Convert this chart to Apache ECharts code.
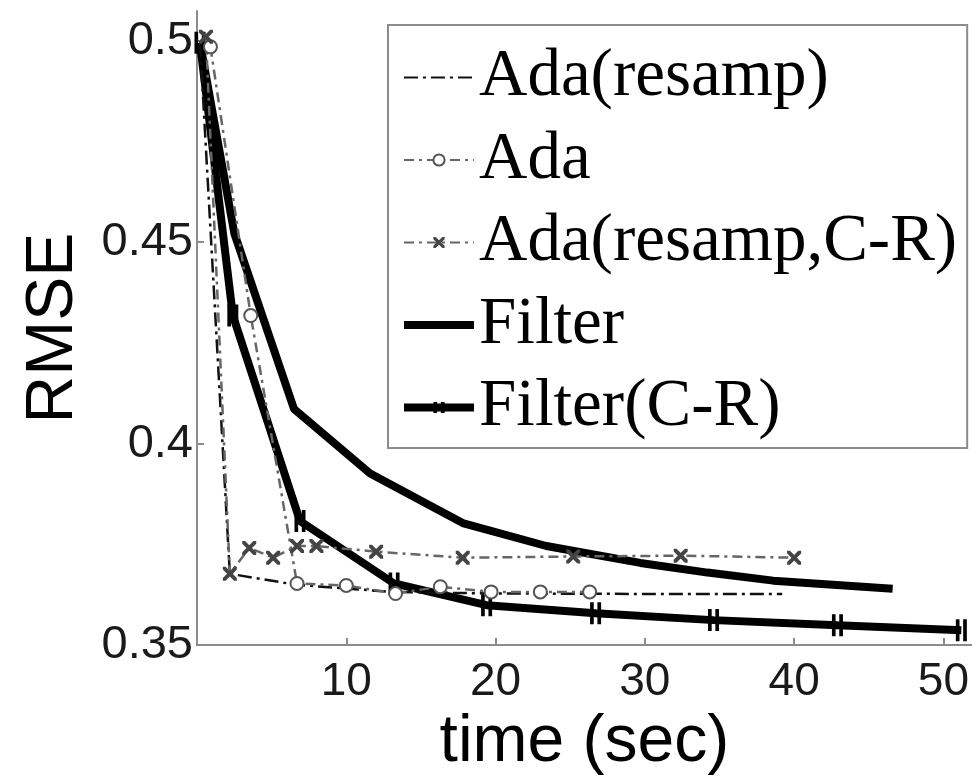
<!DOCTYPE html>
<html><head><meta charset="utf-8">
<script src="https://cdn.jsdelivr.net/npm/echarts@6/dist/echarts.min.js"></script>
<style>html,body{margin:0;padding:0;background:#fff}#c{width:972px;height:781px}</style>
</head><body><div id="c"></div>
<script>
// ---- data ----
const xTicks = [10, 20, 30, 40, 50];
const yTicks = [0.35, 0.4, 0.45, 0.5];
const seriesNames = ['Ada(resamp)', 'Ada', 'Ada(resamp,C-R)', 'Filter', 'Filter(C-R)'];

const adaResampX = [0.2, 2.2, 6.6, 13.0, 20.0, 30.0, 39.2];
const adaResampY = [0.4995, 0.3677, 0.3650, 0.3632, 0.3628, 0.3627, 0.3627];

const adaX = [0.9, 3.6, 6.7, 10.0, 13.3, 16.3, 19.7, 23.0, 26.3];
const adaY = [0.4985, 0.4318, 0.3653, 0.3648, 0.3628, 0.3645, 0.3632, 0.3632, 0.3632];

const adaCRX = [0.6, 2.2, 3.5, 5.1, 6.7, 8.0, 12.0, 17.8, 25.2, 32.4, 40.0];
const adaCRY = [0.5010, 0.3677, 0.3741, 0.3717, 0.3746, 0.3746, 0.3732, 0.3717, 0.3720, 0.3722, 0.3717];

const filterX = [0.2, 2.5, 6.5, 11.6, 17.8, 23.4, 29.7, 34.2, 38.6, 46.6];
const filterY = [0.4995, 0.4522, 0.4086, 0.3926, 0.3803, 0.3746, 0.3704, 0.3680, 0.3660, 0.3640];

const filterCRX = [0.2, 2.4, 6.9, 13.2, 19.4, 26.7, 34.6, 42.9, 51.2];
const filterCRY = [0.4995, 0.4318, 0.3808, 0.3653, 0.3599, 0.3579, 0.3562, 0.3549, 0.3537];

// ---- chart ----
const zip = (xs, ys) => xs.map((x, i) => [x, ys[i]]);
const sans = '"Liberation Sans", Arial, Helvetica, sans-serif';
const serif = '"Liberation Serif", "Times New Roman", serif';
const axisGray = '#8c8c8c';
const xMark = 'path://M0,0 L2,0 L10,8 L10,10 L8,10 L0,2 Z M8,0 L10,0 L10,2 L2,10 L0,10 L0,8 Z';
const barMark = 'path://M0,0 h3 v20 h-3 z M6,0 h3 v20 h-3 z';

const chart = echarts.init(document.getElementById('c'), null, {renderer: 'canvas'});
chart.setOption({
  animation: false,
  backgroundColor: '#fff',
  grid: {left: 197, right: 0, top: 11, bottom: 131},
  xAxis: {
    type: 'value', min: 0, max: 51.9,
    name: 'time (sec)', nameLocation: 'middle', nameGap: 58,
    nameTextStyle: {fontFamily: sans, fontSize: 66, color: '#000'},
    axisLine: {show: true, onZero: false, lineStyle: {color: axisGray, width: 2}},
    axisTick: {show: true, inside: true, length: 7, customValues: xTicks, lineStyle: {color: axisGray, width: 2}},
    axisLabel: {customValues: xTicks, fontFamily: sans, fontSize: 46, color: '#1a1a1a', margin: 14},
    splitLine: {show: false}
  },
  yAxis: {
    type: 'value', min: 0.35, max: 0.5074,
    name: 'RMSE', nameLocation: 'middle', nameGap: 110, nameRotate: 90,
    nameTextStyle: {fontFamily: sans, fontSize: 66, color: '#000'},
    axisLine: {show: true, onZero: false, lineStyle: {color: axisGray, width: 2}},
    axisTick: {show: true, inside: true, length: 7, customValues: yTicks, lineStyle: {color: axisGray, width: 2}},
    axisLabel: {customValues: yTicks, fontFamily: sans, fontSize: 47, color: '#1a1a1a', margin: 4},
    splitLine: {show: false}
  },
  legend: {
    data: [
      {name: seriesNames[0], itemStyle: {opacity: 0}},
      {name: seriesNames[1]},
      {name: seriesNames[2]},
      {name: seriesNames[3], itemStyle: {opacity: 0}, lineStyle: {width: 8}},
      {name: seriesNames[4], lineStyle: {width: 8}}
    ],
    orient: 'vertical', left: 388, top: 25,
    itemWidth: 70, itemHeight: 14, itemGap: 15.5,
    padding: [19, 10, 7, 12],
    borderColor: axisGray, borderWidth: 2, backgroundColor: '#fff',
    textStyle: {fontFamily: serif, fontSize: 67, color: '#000', lineHeight: 67}
  },
  series: [
    {name: seriesNames[0], type: 'line', z: 3, data: zip(adaResampX, adaResampY), symbol: 'none',
     lineStyle: {color: '#111', width: 2.5, type: [14, 5, 3, 5]}, itemStyle: {color: '#111'}},
    {name: seriesNames[1], type: 'line', z: 3, data: zip(adaX, adaY), symbol: 'emptyCircle', symbolSize: 13,
     lineStyle: {color: '#666', width: 2.5, type: [10, 5, 3, 5]}, itemStyle: {color: '#555', borderWidth: 2}},
    {name: seriesNames[2], type: 'line', z: 3, data: zip(adaCRX, adaCRY), symbol: xMark, symbolSize: 14,
     lineStyle: {color: '#666', width: 2.5, type: [10, 5, 3, 5]}, itemStyle: {color: '#444'}},
    {name: seriesNames[3], type: 'line', z: 2, data: zip(filterX, filterY), symbol: 'none',
     lineStyle: {color: '#000', width: 8}, itemStyle: {color: '#000'}},
    {name: seriesNames[4], type: 'line', z: 2, data: zip(filterCRX, filterCRY), symbol: barMark, symbolSize: [11, 22],
     lineStyle: {color: '#000', width: 8}, itemStyle: {color: '#000'}}
  ]
});
</script>
</body></html>
